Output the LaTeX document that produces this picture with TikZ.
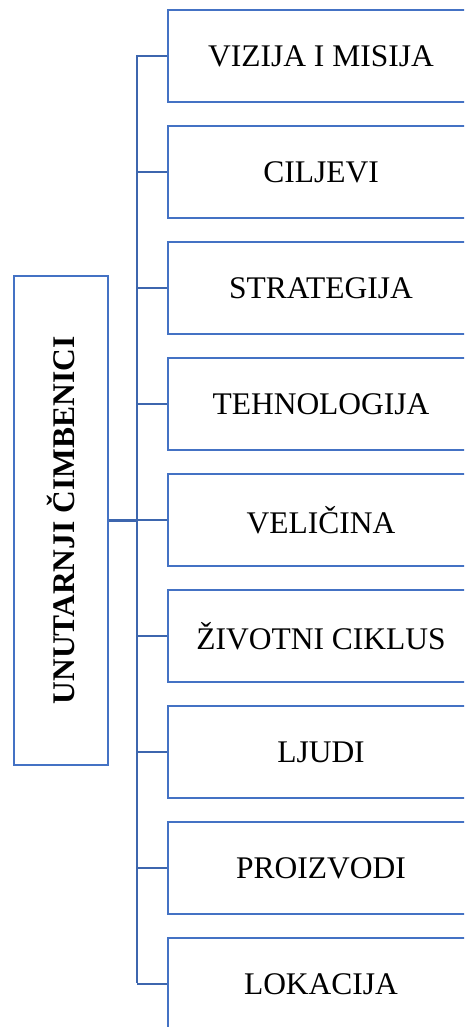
\documentclass[tikz,border=0pt]{standalone}
\usepackage{fontspec}
\setmainfont{Liberation Serif}
\begin{document}
\begin{tikzpicture}[x=1pt,y=-1pt,
  boxline/.style={draw=boxblue,line width=2pt},
  item/.style={boxline,fill=white,anchor=north west,minimum width=306pt,minimum height=92pt,inner sep=0pt,font=\fontsize{31.5}{36}\selectfont},
  conn/.style={draw=connblue,line width=2.2pt}]
\definecolor{boxblue}{HTML}{4472C4}
\definecolor{connblue}{HTML}{3D66AE}
\useasboundingbox (0,0) rectangle (464,1027);
\clip (0,0) rectangle (464,1027);
\node[boxline,anchor=north west,minimum width=94pt,minimum height=489pt,inner sep=0pt] (L) at (13,275) {};
\node[rotate=90,font=\bfseries\fontsize{31.5}{36}\selectfont] (Lt) at (L.center) {UNUTARNJI ČIMBENICI};
\coordinate (trunkTop) at (137,55);
\coordinate (trunkBot) at (137,983);
\foreach \i/\t in {0/VIZIJA I MISIJA,1/CILJEVI,2/STRATEGIJA,3/TEHNOLOGIJA,4/VELIČINA,5/ŽIVOTNI CIKLUS,6/LJUDI,7/PROIZVODI,8/LOKACIJA}{
  \node[item] (b\i) at (167,9+116*\i) {\t};
  \draw[conn] (b\i.west) -- (trunkTop |- b\i.west);
}
\draw[conn] (trunkTop) -- (trunkBot);
\draw[conn] (L.east) -- (trunkTop |- L.east);
\end{tikzpicture}
\end{document}
